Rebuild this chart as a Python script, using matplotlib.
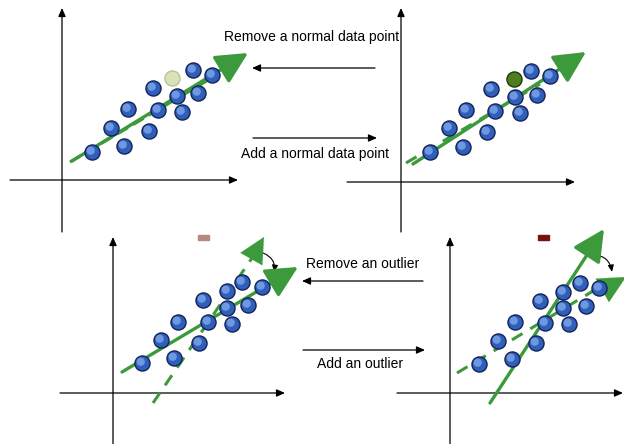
import matplotlib.pyplot as plt
from matplotlib.patches import FancyArrowPatch

plt.rcParams['font.family'] = ['Liberation Sans', 'DejaVu Sans']

# panel points, pixel coordinates of the image (y down)
p1_x = [92, 124, 111, 149, 128, 158, 182, 153, 177, 198, 193, 212]
p1_y = [152, 146, 128, 131, 109, 110, 112, 88, 96, 93, 70, 75]
p1_extra = (172, 78)

p2_x = [430, 463, 449, 487, 466, 495, 520, 491, 515, 537, 531, 550]
p2_y = [152, 147, 128, 132, 110, 111, 113, 89, 97, 95, 71, 76]
p2_extra = (514, 79)

p3_x = [142, 174, 161, 199, 178, 208, 232, 203, 227, 248, 242, 262, 227]
p3_y = [363, 358, 340, 343, 322, 322, 324, 300, 308, 305, 282, 287, 291]

p4_x = [479, 512, 498, 536, 515, 545, 569, 540, 563, 586, 580, 599, 563]
p4_y = [364, 359, 341, 343, 322, 323, 324, 301, 308, 306, 283, 288, 292]

labels = ["Remove a normal data point", "Add a normal data point",
          "Remove an outlier", "Add an outlier"]

green = '#3c9a3c'

fig = plt.figure(figsize=(6.24, 4.44), dpi=100)
ax = fig.add_axes([0, 0, 1, 1])
ax.set_xlim(0, 624)
ax.set_ylim(444, 0)
ax.axis('off')


def arrow(p0, p1, color='black', lw=0.9, style='-|>,head_length=0.5,head_width=0.22',
          ms=10, ls='-', rad=0.0, z=3):
    a = FancyArrowPatch(p0, p1, arrowstyle=style, mutation_scale=ms, color=color,
                        lw=lw, linestyle=ls, connectionstyle=f'arc3,rad={rad}',
                        shrinkA=0, shrinkB=0, zorder=z)
    ax.add_patch(a)


def axes_cross(x0, yaxis_top, yaxis_bot, y0, xleft, xright):
    arrow((x0, yaxis_bot), (x0, yaxis_top))
    arrow((xleft, y0), (xright, y0))


def balls(xs, ys, face='#2f5fbb'):
    ax.scatter(xs, ys, s=118, c=face, edgecolors='#142456', linewidths=1.0, zorder=5)
    ax.scatter([x - 1.3 for x in xs], [y - 1.3 for y in ys], s=35,
               c='#7fa8ea', edgecolors='none', alpha=0.8, zorder=6)


big_head = '-|>,head_length=1.3,head_width=0.65'

# panel 1
axes_cross(62, 8, 232, 180, 10, 238)
ax.plot([70, 215], [162, 76], color=green, lw=2.2, ls=(0, (4, 2)), zorder=4)
arrow((72, 161), (248, 53), color=green, lw=2.4, style=big_head, ms=15, z=4)
balls(p1_x, p1_y)
ax.scatter(*p1_extra, s=118, c='#d9e2b8', edgecolors='#b9c29a', linewidths=1.0, zorder=5)

# panel 2
axes_cross(401, 8, 232, 182, 347, 575)
ax.plot([406, 540], [163, 84], color=green, lw=2.2, ls=(0, (4, 3)), zorder=4)
arrow((413, 164), (586, 52), color=green, lw=2.4, style=big_head, ms=15, z=4)
balls(p2_x, p2_y)
ax.scatter(*p2_extra, s=118, c='#4f7e22', edgecolors='#203a08', linewidths=1.0, zorder=6)

# panel 3
axes_cross(113, 237, 444, 393, 60, 285)
ax.plot([153, 252], [403, 258], color=green, lw=2.2, ls=(0, (4, 3)), zorder=4)
arrow((252, 258), (264, 237), color=green, lw=0.1, style=big_head, ms=14, z=4)
arrow((122, 372), (298, 267), color=green, lw=2.4, style=big_head, ms=15, z=4)
arrow((263, 253), (274, 272), lw=0.8, rad=-0.4, ms=8)
balls(p3_x, p3_y)
ax.add_patch(plt.Rectangle((198, 235), 11, 5, color='#b58a7e', zorder=5))

# panel 4
axes_cross(450, 237, 444, 393, 397, 623)
ax.plot([457, 603], [373, 285], color=green, lw=2.2, ls=(0, (4, 3)), zorder=4)
arrow((490, 403), (604, 229), color=green, lw=2.4, style=big_head, ms=15, z=4)
arrow((603, 290), (626, 277), color=green, lw=0.1, style=big_head, ms=15, z=4)
arrow((593, 255), (612, 272), lw=0.8, rad=-0.4,
      style='<|-|>,head_length=0.5,head_width=0.22', ms=8)
balls(p4_x, p4_y)
ax.add_patch(plt.Rectangle((538, 235), 11, 5, color='#7a1010', zorder=5))

# middle arrows and labels
arrow((375, 68), (252, 68))
arrow((253, 138), (377, 138))
arrow((423, 281), (302, 281))
arrow((303, 350), (425, 350))
fs = 10
ax.text(312, 37, labels[0], ha='center', va='center', fontsize=fs)
ax.text(315, 154, labels[1], ha='center', va='center', fontsize=fs)
ax.text(363, 264, labels[2], ha='center', va='center', fontsize=fs)
ax.text(360, 364, labels[3], ha='center', va='center', fontsize=fs)

fig.savefig('out.png', dpi=100)
